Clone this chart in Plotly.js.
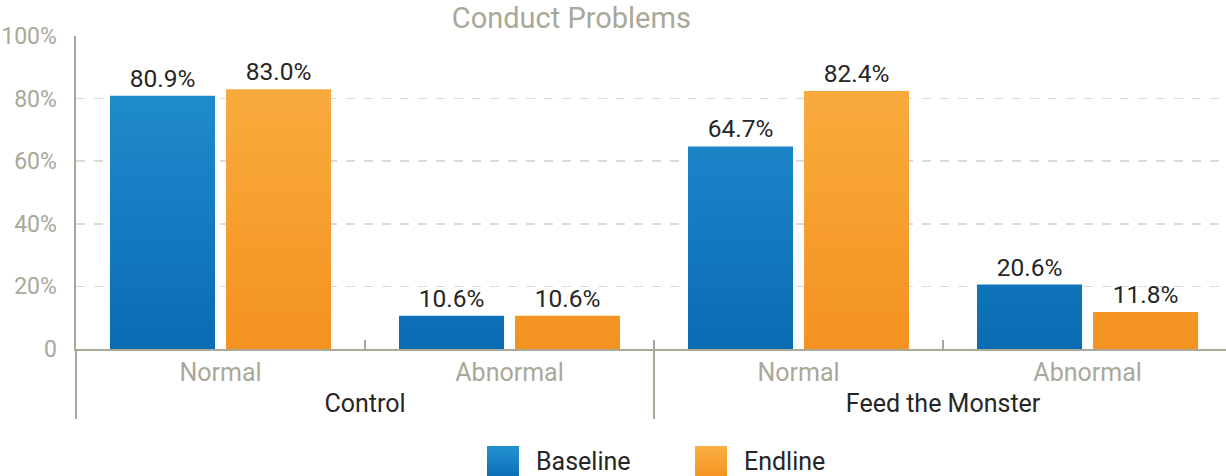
<!DOCTYPE html>
<html>
<head>
<meta charset="utf-8">
<script src="https://cdn.plot.ly/plotly-3.0.1.min.js"></script>
<style>html,body{margin:0;padding:0;background:#fff;}#chart{width:1226px;height:476px;}</style>
</head>
<body>
<div id="chart"></div>
<script>
// ---- data ----
const groups = ['Control', 'Control', 'Feed the Monster', 'Feed the Monster'];
const subgroups = ['Normal', 'Abnormal', 'Normal', 'Abnormal'];
const seriesNames = ['Baseline', 'Endline'];
const baseline = [80.9, 10.6, 64.7, 20.6];
const endline = [83.0, 10.6, 82.4, 11.8];
const yTickVals = [0, 20, 40, 60, 80, 100];
const yTickText = ['0', '20%', '40%', '60%', '80%', '100%'];
const chartTitle = 'Conduct Problems';

// ---- style ----
const FONT = 'Roboto, "Open Sans", sans-serif';
const GRAY = '#a9a899';
const DARK = '#262626';
const colors = ['#1a7fc3', '#f6a233'];
const grads = [['#2492d2', '#0a6cb4'], ['#fab043', '#f39220']];

const xCats = [groups.map(g => '<span style="color:' + DARK + '">' + g + '</span>'), subgroups];
const seriesValues = [baseline, endline];

const traces = seriesNames.map((name, i) => ({
  type: 'bar',
  name: name,
  x: xCats,
  y: seriesValues[i],
  marker: {color: colors[i], line: {width: 0}},
  texttemplate: '%{y:.1f}%',
  textposition: 'outside',
  textfont: {family: FONT, size: 24.5, color: DARK},
  cliponaxis: false,
  hoverinfo: 'skip',
  showlegend: false
}));

// custom legend (large swatches)
const legendX = [0.3574, 0.5383];
const shapes = seriesNames.map((n, i) => ({
  type: 'rect', xref: 'paper', yref: 'paper',
  x0: legendX[i], x1: legendX[i] + 0.0278, y0: -0.3099, y1: -0.415,
  fillcolor: colors[i], line: {width: 0}
}));
const annotations = seriesNames.map((n, i) => ({
  xref: 'paper', yref: 'paper', x: legendX[i] + 0.0409, y: -0.361,
  xanchor: 'left', yanchor: 'middle', showarrow: false,
  text: n, font: {family: FONT, size: 25, color: DARK}
}));

const layout = {
  width: 1226, height: 476,
  margin: {l: 76, r: 0, t: 36, b: 127},
  paper_bgcolor: '#fff', plot_bgcolor: '#fff',
  font: {family: FONT, color: GRAY},
  title: {text: chartTitle, font: {family: FONT, size: 29, color: GRAY},
          x: 0.466, xanchor: 'center', y: 0.962, yanchor: 'middle', yref: 'container'},
  barmode: 'group', bargap: 0.197, bargroupgap: 0.095,
  xaxis: {
    type: 'multicategory',
    range: [-0.5, 3.479],
    showline: true, linecolor: GRAY, linewidth: 2,
    showgrid: false,
    ticks: 'inside', ticklen: 9, tickcolor: GRAY, tickwidth: 2,
    tickson: 'boundaries',
    showdividers: true, dividercolor: GRAY, dividerwidth: 2,
    tickfont: {family: FONT, size: 25, color: GRAY},
    fixedrange: true
  },
  yaxis: {
    range: [0, 100],
    tickvals: yTickVals, ticktext: yTickText,
    showline: true, linecolor: GRAY, linewidth: 2.5,
    showgrid: true, gridcolor: '#dcdcd5', gridwidth: 1.5, griddash: 'dash',
    zeroline: false,
    ticks: '', ticklabelstandoff: 12,
    tickfont: {family: FONT, size: 23, color: GRAY},
    fixedrange: true
  },
  shapes: shapes,
  annotations: annotations
};

function addGradients(gd) {
  const svg = gd.querySelector('svg.main-svg');
  let defs = svg.querySelector('defs');
  const NS = 'http://www.w3.org/2000/svg';
  const h = gd._fullLayout._size.h;
  function mkGrad(id, c, units, y2) {
    const lg = document.createElementNS(NS, 'linearGradient');
    lg.setAttribute('id', id);
    lg.setAttribute('gradientUnits', units);
    lg.setAttribute('x1', 0); lg.setAttribute('x2', 0);
    lg.setAttribute('y1', 0); lg.setAttribute('y2', y2);
    [[0, c[0]], [1, c[1]]].forEach(([o, col]) => {
      const s = document.createElementNS(NS, 'stop');
      s.setAttribute('offset', o); s.setAttribute('stop-color', col);
      lg.appendChild(s);
    });
    defs.appendChild(lg);
  }
  grads.forEach((c, i) => {
    mkGrad('barGrad' + i, c, 'userSpaceOnUse', h);
    mkGrad('swGrad' + i, c, 'objectBoundingBox', 1);
  });
  gd.querySelectorAll('.barlayer .trace').forEach((tr, i) => {
    tr.querySelectorAll('.point path').forEach(p => { p.style.fill = 'url(#barGrad' + i + ')'; });
  });
  const sp = gd.querySelectorAll('.shapelayer path');
  sp.forEach((p, i) => { if (i < grads.length) p.style.fill = 'url(#swGrad' + i + ')'; });
}

Plotly.newPlot('chart', traces, layout, {displayModeBar: false, staticPlot: true})
  .then(gd => addGradients(gd));
</script>
</body>
</html>
